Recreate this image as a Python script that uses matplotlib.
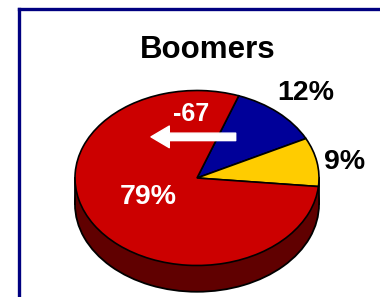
import matplotlib.pyplot as plt
from matplotlib.patches import Rectangle

# data
segments = ['Other', 'Other2', 'Boomers']
shares = [12, 9, 79]
top_colors = ['#000099', '#FFCC00', '#CC0000']
side_colors = ['#600000', '#600000', '#600000']
title = 'Boomers'
change_label = '-67'

depth = 0.3  # thickness of the pie, in y units

fig = plt.figure(figsize=(3.8, 2.97), dpi=100)
ax = fig.add_axes([0, 0, 1, 1])
plt.rcParams['font.family'] = ['Liberation Sans', 'DejaVu Sans']

# side of the cylinder
ax.pie([1], colors=['#600000'], center=(0, -depth), startangle=70,
       wedgeprops=dict(edgecolor='black', linewidth=1.3))
ax.add_patch(Rectangle((-1, -depth), 2, depth, facecolor='#600000',
                       edgecolor='none', zorder=3))
ax.plot([-1, -1], [-depth, 0], color='black', lw=1.3, zorder=4)
ax.plot([1, 1], [-depth, 0], color='black', lw=1.3, zorder=4)

# top face
wedges, _ = ax.pie(shares, colors=top_colors, startangle=70, counterclock=False,
                   wedgeprops=dict(edgecolor='black', linewidth=1.2))
for w in wedges:
    w.set_zorder(5)

ax.set_aspect('auto')
ax.set_xlim(-197 / 122, (380 - 197) / 122)
ax.set_ylim(-119 / 87.5, 178 / 87.5)
ax.axis('off')

# labels
ax.text(0.89, 0.975, f'{shares[0]}%', fontsize=20.5, fontweight='bold',
        ha='center', va='center', zorder=6)
ax.text(1.21, 0.18, f'{shares[1]}%', fontsize=20.5, fontweight='bold',
        ha='center', va='center', zorder=6)
ax.text(-0.40, -0.22, f'{shares[2]}%', fontsize=20.5, fontweight='bold',
        color='white', ha='center', va='center', zorder=6)
ax.text(-0.05, 0.73, change_label, fontsize=18, fontweight='bold',
        color='white', ha='center', va='center', zorder=6)
ax.annotate('', xy=(-0.40, 0.47), xytext=(0.34, 0.47), zorder=6,
            arrowprops=dict(arrowstyle='simple,head_length=1.1,head_width=1.3,tail_width=0.45',
                            facecolor='white', edgecolor='white', mutation_scale=12))

fig.text(208 / 380, 1 - 50 / 297, title, fontsize=22.5, fontweight='bold',
         ha='center', va='center')

# navy frame on the left and top
fig.add_artist(plt.Line2D([18.5 / 380, 18.5 / 380], [0, 1 - 8.5 / 297],
                          color='#000080', lw=2.4))
fig.add_artist(plt.Line2D([18.5 / 380, 1], [1 - 8.5 / 297, 1 - 8.5 / 297],
                          color='#000080', lw=2.4))

fig.savefig('out.png', dpi=100)
